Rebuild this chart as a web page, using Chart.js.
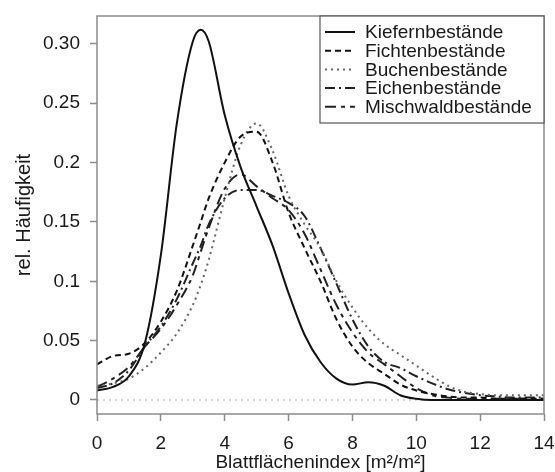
<!DOCTYPE html>
<html>
<head>
<meta charset="utf-8">
<script src="https://cdn.jsdelivr.net/npm/chart.js@4/dist/chart.umd.min.js"></script>
<style>
  html, body { margin: 0; padding: 0; background: #fff; }
</style>
</head>
<body>
<canvas id="chart" width="555" height="472"></canvas>
<script>
// Blattflächenindex (x grid shared by all series)
var lai = [0, 0.5, 1, 1.5, 2, 2.5, 3, 3.25, 3.5, 4, 4.5, 5, 5.5, 6, 6.5, 7, 7.5, 8, 8.5, 9, 9.5, 10, 10.5, 11, 11.5, 12, 12.5, 13, 13.5, 14];

// rel. Häufigkeit per stand type
var kiefer = [0.008, 0.011, 0.020, 0.048, 0.122, 0.233, 0.302, 0.312, 0.302, 0.240, 0.196, 0.163, 0.130, 0.090, 0.055, 0.032, 0.018, 0.013, 0.015, 0.012, 0.004, 0.001, 0, 0, 0, 0, 0, 0, 0, 0];
var fichte = [0.030, 0.037, 0.039, 0.048, 0.066, 0.092, 0.130, 0.150, 0.170, 0.200, 0.222, 0.226, 0.200, 0.158, 0.128, 0.100, 0.068, 0.045, 0.031, 0.022, 0.013, 0.008, 0.005, 0.003, 0.002, 0.002, 0.001, 0.001, 0.001, 0.001];
var buche = [0.012, 0.014, 0.018, 0.027, 0.040, 0.056, 0.080, 0.097, 0.118, 0.170, 0.215, 0.233, 0.210, 0.172, 0.148, 0.128, 0.100, 0.078, 0.060, 0.047, 0.038, 0.029, 0.020, 0.012, 0.007, 0.005, 0.004, 0.004, 0.004, 0.004];
var eiche = [0.010, 0.014, 0.025, 0.045, 0.062, 0.085, 0.115, 0.130, 0.148, 0.170, 0.177, 0.177, 0.172, 0.166, 0.155, 0.128, 0.098, 0.068, 0.045, 0.032, 0.027, 0.020, 0.014, 0.009, 0.006, 0.004, 0.003, 0.002, 0.002, 0.002];
var misch = [0.011, 0.018, 0.028, 0.045, 0.060, 0.080, 0.105, 0.125, 0.145, 0.178, 0.190, 0.180, 0.170, 0.160, 0.140, 0.110, 0.080, 0.057, 0.040, 0.030, 0.020, 0.010, 0.004, 0.002, 0.001, 0.001, 0.001, 0.001, 0.001, 0.001];

var names = ['Kiefernbestände', 'Fichtenbestände', 'Buchenbestände', 'Eichenbestände', 'Mischwaldbestände'];
var yTicks = [0, 0.05, 0.1, 0.15, 0.2, 0.25, 0.3];
var yTickLabels = ['0', '0.05', '0.1', '0.15', '0.2', '0.25', '0.30'];
var xTicks = [0, 2, 4, 6, 8, 10, 12, 14];

var FONT = 'Liberation Sans, Arial, Helvetica, sans-serif';
var frameColor = '#8c8c8c';

function pts(ys) {
  return lai.map(function (x, i) { return { x: x, y: ys[i] }; });
}

var styles = [
  { color: '#111', dash: [] },
  { color: '#111', dash: [6, 4] },
  { color: '#666', dash: [2, 4] },
  { color: '#222', dash: [10, 4, 2, 4] },
  { color: '#222', dash: [11, 5, 4, 5] }
];
var values = [kiefer, fichte, buche, eiche, misch];

var datasets = values.map(function (v, i) {
  return {
    label: names[i],
    data: pts(v),
    borderColor: styles[i].color,
    borderDash: styles[i].dash,
    borderWidth: 2,
    pointRadius: 0,
    fill: false,
    cubicInterpolationMode: 'monotone'
  };
});

// frame, zero line and the boxed legend (R style)
var framePlugin = {
  id: 'framePlugin',
  beforeDatasetsDraw: function (chart) {
    var ctx = chart.ctx, a = chart.chartArea;
    var y0 = chart.scales.y.getPixelForValue(0);
    ctx.save();
    ctx.strokeStyle = '#c8c8c8';
    ctx.lineWidth = 1.5;
    ctx.setLineDash([2, 4]);
    ctx.beginPath();
    ctx.moveTo(a.left, y0);
    ctx.lineTo(a.right, y0);
    ctx.stroke();
    ctx.restore();
  },
  afterDraw: function (chart) {
    var ctx = chart.ctx, a = chart.chartArea;
    ctx.save();
    ctx.strokeStyle = frameColor;
    ctx.lineWidth = 1.5;
    ctx.setLineDash([]);
    ctx.strokeRect(a.left, a.top, a.right - a.left, a.bottom - a.top);

    // legend box
    var w = 224, h = 107;
    var lx = a.right - w, ly = a.top;
    ctx.fillStyle = '#fff';
    ctx.fillRect(lx, ly, w, h);
    ctx.strokeStyle = '#555';
    ctx.lineWidth = 1.2;
    ctx.strokeRect(lx, ly, w, h);

    ctx.font = '19px ' + FONT;
    ctx.textBaseline = 'middle';
    ctx.textAlign = 'left';
    chart.data.datasets.forEach(function (ds, i) {
      var yy = ly + 16 + i * 18.7;
      ctx.strokeStyle = ds.borderColor;
      ctx.lineWidth = 2;
      ctx.setLineDash(ds.borderDash);
      ctx.beginPath();
      ctx.moveTo(lx + 5, yy);
      ctx.lineTo(lx + 35, yy);
      ctx.stroke();
      ctx.fillStyle = '#1a1a1a';
      ctx.fillText(ds.label, lx + 45, yy + 1);
    });
    ctx.restore();
  }
};

new Chart(document.getElementById('chart'), {
  type: 'line',
  data: { datasets: datasets },
  plugins: [framePlugin],
  options: {
    responsive: false,
    animation: false,
    devicePixelRatio: 1,
    layout: { padding: { top: 16, right: 11, left: 0, bottom: 0 } },
    plugins: { legend: { display: false }, tooltip: { enabled: false } },
    scales: {
      x: {
        type: 'linear',
        min: 0,
        max: 14,
        afterBuildTicks: function (s) { s.ticks = xTicks.map(function (v) { return { value: v }; }); },
        afterFit: function (s) { s.height = 58; s.paddingLeft = 0; s.paddingRight = 0; },
        border: { display: false },
        grid: { drawOnChartArea: false, drawTicks: true, tickLength: 7, tickColor: frameColor, tickWidth: 1.5 },
        ticks: { color: '#1a1a1a', font: { family: FONT, size: 19 }, padding: 11, maxRotation: 0 },
        title: { display: true, text: 'Blattflächenindex [m²/m²]', color: '#1a1a1a', font: { family: FONT, size: 19 }, padding: { top: 0, bottom: -2 } }
      },
      y: {
        type: 'linear',
        min: -0.0118,
        max: 0.3235,
        afterBuildTicks: function (s) { s.ticks = yTicks.map(function (v) { return { value: v }; }); },
        afterFit: function (s) { s.width = 97; s.paddingTop = 0; s.paddingBottom = 0; },
        border: { display: false },
        grid: { drawOnChartArea: false, drawTicks: true, tickLength: 7, tickColor: frameColor, tickWidth: 1.5 },
        ticks: {
          color: '#1a1a1a',
          font: { family: FONT, size: 19 },
          padding: 10,
          callback: function (v) { var k = yTicks.indexOf(v); return k >= 0 ? yTickLabels[k] : ''; }
        },
        title: { display: true, text: 'rel. Häufigkeit', color: '#1a1a1a', font: { family: FONT, size: 20 }, padding: { top: 12, bottom: 0 } }
      }
    }
  }
});
</script>
</body>
</html>
